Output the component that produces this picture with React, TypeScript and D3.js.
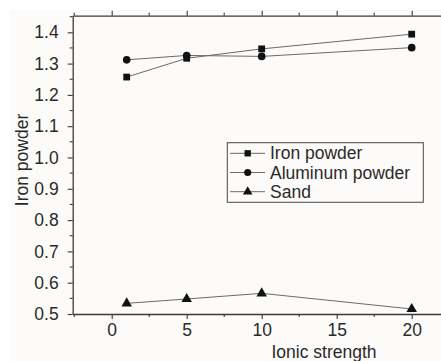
import React, { useEffect, useRef } from "react";
import * as d3 from "d3";

// ionic strength values on x
const ionicStrength = [1, 5, 10, 20];
const ironPowder = [1.257, 1.317, 1.347, 1.394];
const aluminumPowder = [1.312, 1.326, 1.323, 1.351];
const sand = [0.534, 0.548, 0.566, 0.516];

const seriesNames = ["Iron powder", "Aluminum powder", "Sand"];
const seriesSymbols = [d3.symbolSquare, d3.symbolCircle, d3.symbolTriangle];
const xTicks = [0, 5, 10, 15, 20];
const yTicks = [0.5, 0.6, 0.7, 0.8, 0.9, 1.0, 1.1, 1.2, 1.3, 1.4];

const W = 441;
const H = 361;
const FONT = "'Liberation Sans', Arial, sans-serif";

function App() {
  const svgRef = useRef<SVGSVGElement>(null);

  useEffect(() => {
    const svg = d3.select(svgRef.current);
    svg.selectAll("*").remove();

    const x = d3.scaleLinear().domain([-2.6, 22]).range([72.7, 441.7]);
    const y = d3.scaleLinear().domain([0.5, 1.453]).range([314, 15.7]);

    // faint paper tone like the scanned figure
    svg.append("rect").attr("width", W).attr("height", H).attr("fill", "#ffffff");
    svg.append("rect").attr("x", 10).attr("y", 10).attr("width", W - 10).attr("height", H - 10).attr("fill", "#fcfbf9");

    const axisColor = "#3a3a3a";
    const textColor = "#2a2a2a";

    // bottom axis
    const bottom = d3.axisBottom(x).tickValues(xTicks).tickFormat(d3.format("d")).tickSize(5).tickSizeOuter(0).tickPadding(5);
    const gx = svg.append("g").attr("transform", `translate(0,${y(0.5)})`).call(bottom);
    gx.append("g")
      .selectAll("line")
      .data(d3.range(-2.5, 22, 5))
      .join("line")
      .attr("x1", (d) => x(d))
      .attr("x2", (d) => x(d))
      .attr("y2", 3);

    // top mirror axis, no labels
    const top = d3.axisTop(x).tickValues(xTicks).tickFormat(() => "").tickSize(5).tickSizeOuter(0);
    const gt = svg.append("g").attr("transform", `translate(0,${y.range()[1]})`).call(top);
    gt.append("g")
      .selectAll("line")
      .data(d3.range(-2.5, 22, 5))
      .join("line")
      .attr("x1", (d) => x(d))
      .attr("x2", (d) => x(d))
      .attr("y2", -3);

    // left axis
    const left = d3.axisLeft(y).tickValues(yTicks).tickFormat(d3.format(".1f")).tickSize(5).tickSizeOuter(0).tickPadding(9);
    const gy = svg.append("g").attr("transform", `translate(${x(-2.6)},0)`).call(left);
    gy.append("g")
      .selectAll("line")
      .data(d3.range(0.55, 1.46, 0.1))
      .join("line")
      .attr("y1", (d) => y(d))
      .attr("y2", (d) => y(d))
      .attr("x2", -3);

    [gx, gt, gy].forEach((g) => {
      g.selectAll("path").attr("stroke", axisColor).attr("stroke-width", 1.3);
      g.selectAll("line").attr("stroke", axisColor).attr("stroke-width", 1.1);
      g.selectAll("text").attr("fill", textColor).attr("font-family", FONT).attr("font-size", 17.5);
    });

    // axis titles
    svg.append("text")
      .attr("x", 324)
      .attr("y", 358)
      .attr("text-anchor", "middle")
      .attr("font-family", FONT)
      .attr("font-size", 17.5)
      .attr("fill", textColor)
      .text("Ionic strength");

    svg.append("text")
      .attr("transform", `translate(21.7,160) rotate(-90)`)
      .attr("text-anchor", "middle")
      .attr("dominant-baseline", "central")
      .attr("font-family", FONT)
      .attr("font-size", 17.5)
      .attr("fill", textColor)
      .text("Iron powder");

    const series = [ironPowder, aluminumPowder, sand];
    const lineGen = d3.line<number>()
      .x((d, i) => x(ionicStrength[i]))
      .y((d) => y(d));

    series.forEach((values, s) => {
      svg.append("path")
        .attr("d", lineGen(values))
        .attr("fill", "none")
        .attr("stroke", "#6a6a6a")
        .attr("stroke-width", 1);

      const sym = d3.symbol().type(seriesSymbols[s]).size(s === 2 ? 48 : 46);
      svg.append("g")
        .selectAll("path")
        .data(values)
        .join("path")
        .attr("transform", (d, i) => `translate(${x(ionicStrength[i])},${y(d)})`)
        .attr("d", sym())
        .attr("fill", "#111");
    });

    // legend
    const lg = svg.append("g");
    lg.append("rect")
      .attr("x", 227.3)
      .attr("y", 142.7)
      .attr("width", 196)
      .attr("height", 59.6)
      .attr("fill", "#fcfbf9")
      .attr("stroke", "#555")
      .attr("stroke-width", 1.1);

    seriesNames.forEach((name, s) => {
      const ry = 153.3 + s * 19.2;
      lg.append("line")
        .attr("x1", 230)
        .attr("x2", 265)
        .attr("y1", ry)
        .attr("y2", ry)
        .attr("stroke", "#6a6a6a")
        .attr("stroke-width", 1);
      lg.append("path")
        .attr("transform", `translate(247.7,${ry})`)
        .attr("d", d3.symbol().type(seriesSymbols[s]).size(40)())
        .attr("fill", "#111");
      lg.append("text")
        .attr("x", 270)
        .attr("y", ry)
        .attr("dominant-baseline", "central")
        .attr("font-family", FONT)
        .attr("font-size", 17.5)
        .attr("fill", textColor)
        .text(name);
    });
  }, []);

  return (
    <svg
      ref={svgRef}
      width={W}
      height={H}
      style={{ position: "absolute", left: 0, top: 0, display: "block" }}
    />
  );
}

export default App;
